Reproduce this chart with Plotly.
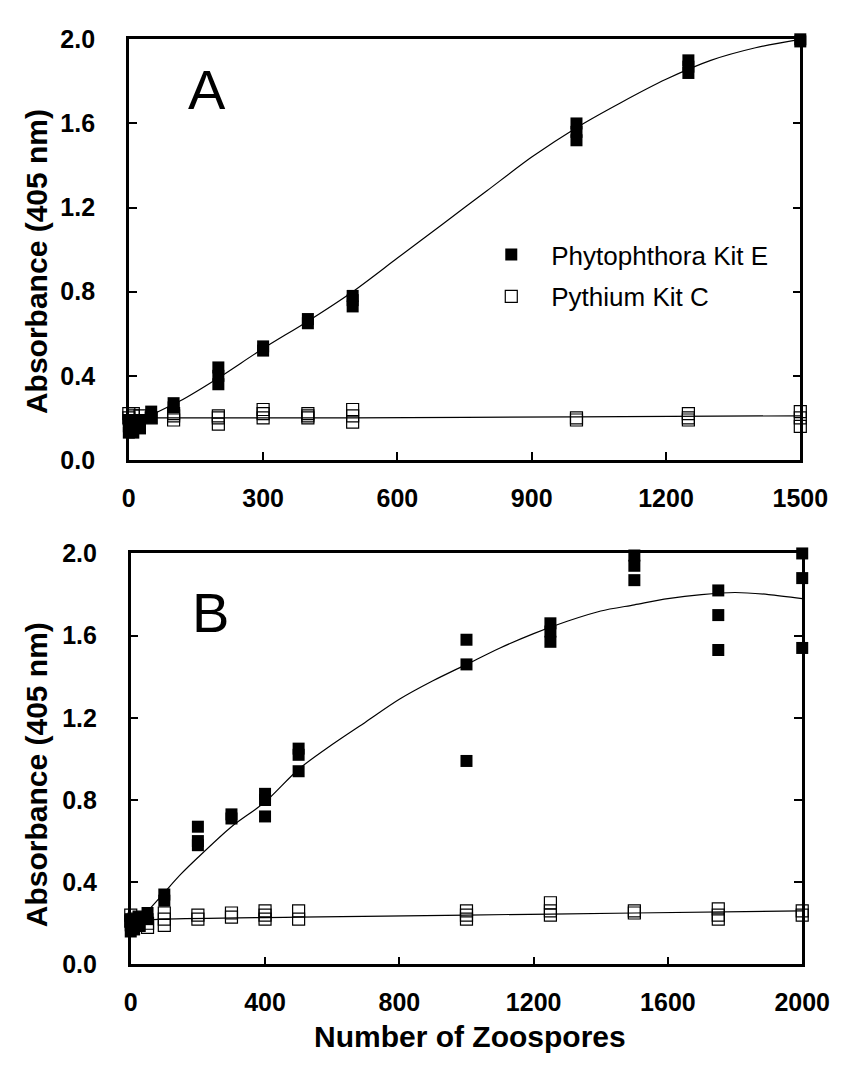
import plotly.graph_objects as go

W, H = 859, 1066

# ---------------- Panel A data ----------------
a_phy_x = [0, 0, 0, 10, 10, 25, 25, 50, 50, 100, 100, 200, 200, 200, 300, 300,
           400, 400, 500, 500, 500, 1000, 1000, 1000, 1250, 1250, 1250, 1500, 1500]
a_phy_y = [0.13, 0.16, 0.19, 0.13, 0.17, 0.15, 0.19, 0.20, 0.23, 0.25, 0.27,
           0.36, 0.40, 0.44, 0.52, 0.54, 0.65, 0.67, 0.73, 0.76, 0.78,
           1.52, 1.56, 1.60, 1.84, 1.87, 1.90, 2.00, 1.99]

a_pyt_x = [0, 0, 10, 10, 25, 50, 100, 100, 100, 200, 200, 200, 300, 300, 300,
           400, 400, 400, 500, 500, 500, 1000, 1000, 1250, 1250, 1250, 1500, 1500, 1500]
a_pyt_y = [0.20, 0.22, 0.21, 0.22, 0.21, 0.20, 0.19, 0.21, 0.22, 0.17, 0.20, 0.21,
           0.20, 0.22, 0.24, 0.20, 0.21, 0.22, 0.18, 0.21, 0.24, 0.19, 0.20,
           0.19, 0.20, 0.22, 0.16, 0.20, 0.23]

a_phy_fit_x = [0, 25, 56, 114, 200, 300, 400, 500, 600, 700, 800, 900, 1000,
               1100, 1200, 1300, 1400, 1500]
a_phy_fit_y = [0.16, 0.19, 0.22, 0.28, 0.39, 0.53, 0.66, 0.80, 0.96, 1.12, 1.28,
               1.44, 1.58, 1.70, 1.81, 1.90, 1.96, 2.00]

a_pyt_fit_x = [0, 500, 1000, 1500]
a_pyt_fit_y = [0.20, 0.20, 0.205, 0.21]

# ---------------- Panel B data ----------------
b_phy_x = [0, 0, 0, 10, 10, 25, 25, 50, 50, 100, 100, 200, 200, 200, 300, 300,
           400, 400, 400, 500, 500, 500, 1000, 1000, 1000, 1250, 1250, 1250,
           1500, 1500, 1500, 1750, 1750, 1750, 2000, 2000, 2000]
b_phy_y = [0.16, 0.19, 0.22, 0.17, 0.21, 0.19, 0.23, 0.22, 0.25, 0.31, 0.34,
           0.58, 0.60, 0.67, 0.71, 0.73, 0.72, 0.80, 0.83, 0.94, 1.02, 1.05,
           0.99, 1.46, 1.58, 1.57, 1.62, 1.66, 1.87, 1.94, 1.99,
           1.53, 1.70, 1.82, 1.54, 1.88, 2.00]

b_pyt_x = [0, 0, 10, 25, 25, 50, 50, 100, 100, 100, 200, 200, 300, 300,
           400, 400, 400, 500, 500, 1000, 1000, 1000, 1250, 1250, 1250,
           1500, 1500, 1750, 1750, 1750, 2000, 2000]
b_pyt_y = [0.21, 0.24, 0.22, 0.19, 0.23, 0.18, 0.20, 0.19, 0.22, 0.25, 0.22, 0.24,
           0.23, 0.25, 0.22, 0.24, 0.26, 0.22, 0.26, 0.22, 0.24, 0.26,
           0.24, 0.26, 0.30, 0.25, 0.26, 0.22, 0.24, 0.27, 0.24, 0.26]

b_phy_fit_x = [0, 50, 100, 150, 200, 300, 400, 500, 600, 700, 800, 900, 1000,
               1100, 1200, 1300, 1400, 1500, 1600, 1700, 1800, 1900, 2000]
b_phy_fit_y = [0.19, 0.26, 0.35, 0.44, 0.52, 0.67, 0.79, 0.95, 1.07, 1.18, 1.29,
               1.38, 1.46, 1.54, 1.61, 1.67, 1.72, 1.75, 1.78, 1.80, 1.81, 1.80, 1.78]

b_pyt_fit_x = [0, 100, 500, 1000, 1500, 2000]
b_pyt_fit_y = [0.21, 0.22, 0.23, 0.24, 0.25, 0.26]

a_xticks = [0, 300, 600, 900, 1200, 1500]
b_xticks = [0, 400, 800, 1200, 1600, 2000]
y_ticks = [0.0, 0.4, 0.8, 1.2, 1.6, 2.0]

series_names = ["Phytophthora Kit E", "Pythium Kit C"]
y_title = "Absorbance (405 nm)"
x_title = "Number of Zoospores"

FONT = "Liberation Sans, Arial, Helvetica, sans-serif"
BLACK = "#000000"

fig = go.Figure()

filled = dict(symbol="square", size=12, color=BLACK, line=dict(width=0))
opened = dict(symbol="square-open", size=12, color=BLACK, line=dict(width=1.2, color=BLACK))
fitline = dict(color=BLACK, width=1.2, shape="spline", smoothing=0.8)

# Panel A
fig.add_trace(go.Scatter(x=a_phy_fit_x, y=a_phy_fit_y, mode="lines", line=fitline,
                         xaxis="x", yaxis="y", showlegend=False, hoverinfo="skip"))
fig.add_trace(go.Scatter(x=a_pyt_fit_x, y=a_pyt_fit_y, mode="lines", line=fitline,
                         xaxis="x", yaxis="y", showlegend=False, hoverinfo="skip"))
fig.add_trace(go.Scatter(x=a_pyt_x, y=a_pyt_y, mode="markers", marker=opened,
                         name=series_names[1], legendgroup="g2", legendrank=2,
                         xaxis="x", yaxis="y", cliponaxis=False))
fig.add_trace(go.Scatter(x=a_phy_x, y=a_phy_y, mode="markers", marker=filled,
                         name=series_names[0], legendgroup="g1", legendrank=1,
                         xaxis="x", yaxis="y", cliponaxis=False))

# Panel B
fig.add_trace(go.Scatter(x=b_phy_fit_x, y=b_phy_fit_y, mode="lines", line=fitline,
                         xaxis="x2", yaxis="y2", showlegend=False, hoverinfo="skip"))
fig.add_trace(go.Scatter(x=b_pyt_fit_x, y=b_pyt_fit_y, mode="lines", line=fitline,
                         xaxis="x2", yaxis="y2", showlegend=False, hoverinfo="skip"))
fig.add_trace(go.Scatter(x=b_pyt_x, y=b_pyt_y, mode="markers", marker=opened,
                         xaxis="x2", yaxis="y2", showlegend=False, cliponaxis=False))
fig.add_trace(go.Scatter(x=b_phy_x, y=b_phy_y, mode="markers", marker=filled,
                         xaxis="x2", yaxis="y2", showlegend=False, cliponaxis=False))


def px_x(p):
    return p / W


def px_y(p):
    return 1 - p / H


tickfont = dict(family=FONT, size=25, color=BLACK, weight="bold")

xcommon = dict(showline=True, linewidth=2.5, linecolor=BLACK, mirror=True,
               ticks="inside", ticklen=8, tickwidth=1.5, tickcolor=BLACK,
               showgrid=False, zeroline=False, tickfont=tickfont,
               ticklabelstandoff=14)
ycommon = dict(showline=True, linewidth=2.5, linecolor=BLACK, mirror="ticks",
               ticks="inside", ticklen=8, tickwidth=1.5, tickcolor=BLACK,
               showgrid=False, zeroline=False, tickfont=tickfont,
               tickvals=y_ticks, tickformat=".1f", range=[0, 2.0],
               ticklabelstandoff=26)

fig.update_layout(
    width=W, height=H,
    margin=dict(l=0, r=0, t=0, b=0),
    paper_bgcolor="white", plot_bgcolor="white",
    font=dict(family=FONT, color=BLACK),
    xaxis=dict(domain=[px_x(127), px_x(827)], range=[0, 1500], tickvals=a_xticks,
               anchor="y", **xcommon),
    yaxis=dict(domain=[px_y(458), px_y(26)], anchor="x", **ycommon),
    xaxis2=dict(domain=[px_x(129), px_x(829)], range=[0, 2000], tickvals=b_xticks,
                anchor="y2", **xcommon),
    yaxis2=dict(domain=[px_y(976), px_y(554)], anchor="x2", **ycommon),
    showlegend=True,
    legend=dict(x=px_x(484), y=px_y(223), xanchor="left", yanchor="top",
                font=dict(family=FONT, size=26, color=BLACK),
                itemwidth=70, tracegroupgap=5, traceorder="grouped",
                bgcolor="rgba(0,0,0,0)", borderwidth=0),
    annotations=[
        dict(text="A", x=px_x(208), y=px_y(78), xref="paper", yref="paper",
             xanchor="center", yanchor="middle", showarrow=False,
             font=dict(family=FONT, size=56, color=BLACK)),
        dict(text="B", x=px_x(212), y=px_y(615), xref="paper", yref="paper",
             xanchor="center", yanchor="middle", showarrow=False,
             font=dict(family=FONT, size=56, color=BLACK)),
        dict(text=y_title, x=px_x(31), y=px_y(254), xref="paper", yref="paper",
             xanchor="center", yanchor="middle", textangle=-90, showarrow=False,
             font=dict(family=FONT, size=30, color=BLACK, weight="bold")),
        dict(text=y_title, x=px_x(31), y=px_y(781), xref="paper", yref="paper",
             xanchor="center", yanchor="middle", textangle=-90, showarrow=False,
             font=dict(family=FONT, size=30, color=BLACK, weight="bold")),
        dict(text=x_title, x=px_x(483), y=px_y(1050), xref="paper", yref="paper",
             xanchor="center", yanchor="middle", showarrow=False,
             font=dict(family=FONT, size=30, color=BLACK, weight="bold")),
    ],
)

fig.write_html("out.html")
